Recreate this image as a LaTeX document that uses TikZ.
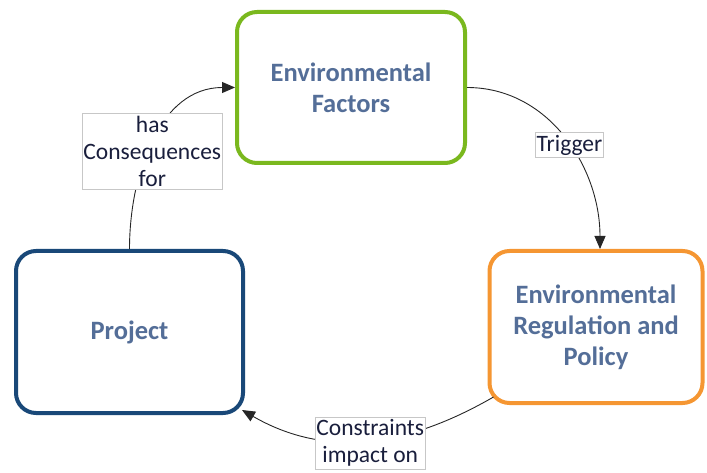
\documentclass[tikz,border=0pt]{standalone}
\usepackage{fontspec}
\setmainfont{Carlito}
\usetikzlibrary{arrows.meta,positioning}
\definecolor{boxtext}{RGB}{84,110,152}
\definecolor{facgreen}{RGB}{122,184,30}
\definecolor{regorange}{RGB}{245,150,50}
\definecolor{projblue}{RGB}{25,72,120}
\definecolor{labeltext}{RGB}{25,30,60}

\begin{document}
\begin{tikzpicture}[x=1pt,y=1pt,
  stage/.style={draw,line width=4pt,rounded corners=20pt,fill=white,align=center,
    text=boxtext,font=\fontsize{26.5}{31}\selectfont\bfseries},
  edgelabel/.style={draw=black!22,line width=0.8pt,fill=white,align=center,
    text=labeltext,inner xsep=1pt,inner ysep=2.5pt,font=\fontsize{23.5}{27}\selectfont},
  link/.style={line width=0.9pt,black!85,-{Triangle[length=13pt,width=11pt]}}]
\useasboundingbox (0,0) rectangle (707,-473);

\node[stage,draw=facgreen,minimum width=228pt,minimum height=151pt] (factors) at (351,-87.5) {Environmental\\Factors};
\node[stage,draw=regorange,minimum width=213pt,minimum height=152pt] (policy) at (596,-327) {Environmental\\Regulation and\\Policy};
\node[stage,draw=projblue,minimum width=227pt,minimum height=162pt] (project) at (129.5,-332) {Project};

\draw[link] (project.north) to[out=90,in=180] node[edgelabel,pos=0.44,xshift=4pt] (conseq) {has\\Consequences\\for} (factors.west);
\draw[link] (factors.east) to[out=0,in=90] node[edgelabel,pos=0.54] (trigger) {Trigger} ([xshift=4pt]policy.north);
\draw[link] ([xshift=6pt,yshift=8pt]policy.south west) to[out=-150,in=-30] node[edgelabel,pos=0.49,yshift=-3pt] (impact) {Constraints\\impact on} ([xshift=-3pt,yshift=5pt]project.south east);

\end{tikzpicture}
\end{document}
